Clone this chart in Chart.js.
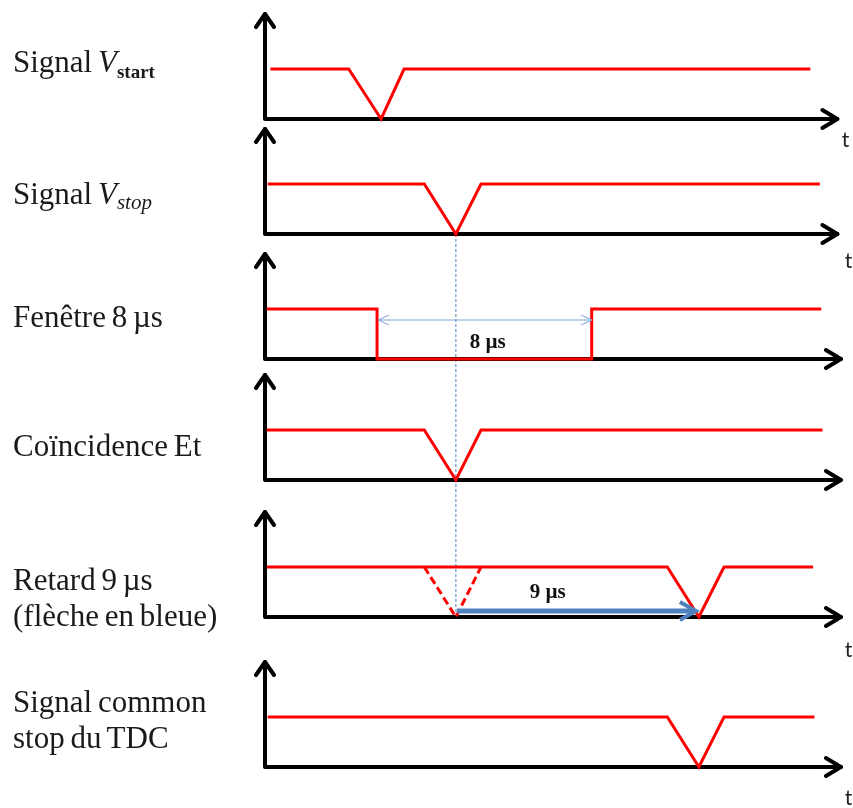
<!DOCTYPE html>
<html>
<head>
<meta charset="utf-8">
<script src="https://cdn.jsdelivr.net/npm/chart.js@4"></script>
<style>
  body { margin: 0; background: #fff; }
  #wrap { position: relative; width: 853px; height: 808px; }
  #timing { position: absolute; left: 0; top: 0; }
  .label {
    position: absolute;
    left: 13px;
    font-family: "Liberation Serif", "Times New Roman", serif;
    font-size: 31px;
    line-height: 37px;
    color: #1a1a1a;
    white-space: nowrap;
    word-spacing: -2px;
  }
  .label.two { line-height: 36px; }
  .sub { position: relative; top: 6px; font-size: 19px; font-weight: bold; line-height: 0; }
  .subi { position: relative; top: 5px; font-size: 21px; font-style: italic; line-height: 0; }
</style>
</head>
<body>
<div id="wrap">
  <canvas id="timing" width="853" height="808"></canvas>
  <div class="label" style="top:43px">Signal <i>V</i><span class="sub">start</span></div>
  <div class="label" style="top:175px">Signal <i>V</i><span class="subi">stop</span></div>
  <div class="label" style="top:298px">Fenêtre 8 µs</div>
  <div class="label" style="top:427px">Coïncidence Et</div>
  <div class="label two" style="top:562px">Retard 9 µs<br>(flèche en bleue)</div>
  <div class="label two" style="top:684px">Signal common<br>stop du TDC</div>
</div>
<script>
// times in µs, levels 0 = low, 1 = high
const startTimes = [0.2, 3.1, 4.3, 5.15, 20.2];
const startLevels = [1, 1, 0, 1, 1];

const stopTimes = [0.1, 5.9, 7.07, 8.0, 20.55];
const stopLevels = [1, 1, 0, 1, 1];

const windowTimes = [0.07, 4.15, 4.15, 12.1, 12.1, 20.6];
const windowLevels = [1, 1, 0, 0, 1, 1];

const coincTimes = [0.07, 5.9, 7.07, 8.0, 20.65];
const coincLevels = [1, 1, 0, 1, 1];

const delayTimes = [0.07, 14.9, 16.07, 17.0, 20.3];
const delayLevels = [1, 1, 0, 1, 1];

const ghostTimes = [5.9, 7.07, 8.0];
const ghostLevels = [1, 0, 1];

const commonTimes = [0.1, 14.9, 16.07, 17.0, 20.35];
const commonLevels = [1, 1, 0, 1, 1];

const windowUs = 8;
const delayUs = 9;
const axisEnds = [21.2, 21.2, 21.33, 21.33, 21.33, 21.33];

// layout of the six lanes (in level units on the y scale)
const laneBase = [13.78, 11.48, 8.98, 6.56, 3.82, 0.82];
const axisHeight = 2.1;
const tLabelDx = [8, 11, 16, 16, 7.5, 7.5];
const tLabelDy = [28, 34, 30, 36, 40, 38];

const RED = "#ff0000";
const BLUE = "#4f81bd";

function toPoints(times, levels, lane) {
  return times.map((t, i) => ({ x: t, y: laneBase[lane] + levels[i] }));
}

function signalDataset(times, levels, lane, dashed) {
  return {
    data: toPoints(times, levels, lane),
    borderColor: RED,
    borderWidth: 3,
    borderDash: dashed ? [8, 4] : [],
    pointRadius: 0,
    tension: 0,
    fill: false,
  };
}

function drawAxes(ctx, x, y, lane) {
  let x0 = x.getPixelForValue(0);
  let yb = y.getPixelForValue(laneBase[lane]);
  let yt = y.getPixelForValue(laneBase[lane] + axisHeight);
  let xe = x.getPixelForValue(axisEnds[lane]);

  ctx.strokeStyle = "#000";
  ctx.lineWidth = 4;
  ctx.lineJoin = "round";
  ctx.lineCap = "round";
  ctx.setLineDash([]);
  ctx.beginPath();
  ctx.moveTo(x0, yt);
  ctx.lineTo(x0, yb);
  ctx.lineTo(xe, yb);
  ctx.stroke();

  ctx.beginPath();
  ctx.moveTo(x0 - 9, yt + 13);
  ctx.lineTo(x0, yt);
  ctx.lineTo(x0 + 9, yt + 13);
  ctx.moveTo(xe - 15, yb - 9);
  ctx.lineTo(xe, yb);
  ctx.lineTo(xe - 15, yb + 9);
  ctx.stroke();

  ctx.fillStyle = "#222";
  ctx.font = '21px Lato, "Liberation Sans", sans-serif';
  ctx.textAlign = "center";
  ctx.textBaseline = "alphabetic";
  ctx.fillText("t", xe + tLabelDx[lane], yb + tLabelDy[lane]);
}

function drawOpenHead(ctx, tipX, tipY, dir, len, half) {
  ctx.beginPath();
  ctx.moveTo(tipX - dir * len, tipY - half);
  ctx.lineTo(tipX, tipY);
  ctx.lineTo(tipX - dir * len, tipY + half);
  ctx.stroke();
}

const timingPlugin = {
  id: "timing",
  beforeDatasetsDraw(chart) {
    const { ctx, scales: { x, y } } = chart;
    ctx.save();

    // dashed marker at the stop dip, from lane 2 down to lane 5
    let mx = x.getPixelForValue(stopTimes[2]);
    ctx.strokeStyle = BLUE;
    ctx.lineWidth = 1;
    ctx.setLineDash([3, 2]);
    ctx.beginPath();
    ctx.moveTo(mx, y.getPixelForValue(laneBase[1]));
    ctx.lineTo(mx, y.getPixelForValue(laneBase[4]));
    ctx.stroke();

    for (let lane = 0; lane < laneBase.length; lane++) {
      drawAxes(ctx, x, y, lane);
    }
    ctx.restore();
  },
  afterDatasetsDraw(chart) {
    const { ctx, scales: { x, y } } = chart;
    ctx.save();
    ctx.setLineDash([]);

    // 8 µs window arrow
    let wx1 = x.getPixelForValue(windowTimes[1]);
    let wx2 = x.getPixelForValue(windowTimes[1] + windowUs);
    let wy = y.getPixelForValue(laneBase[2] + 0.78);
    ctx.strokeStyle = "#7fa3d6";
    ctx.lineWidth = 1;
    ctx.beginPath();
    ctx.moveTo(wx1 + 1, wy);
    ctx.lineTo(wx2 - 1, wy);
    ctx.stroke();
    drawOpenHead(ctx, wx1 + 1, wy, -1, 11, 5);
    drawOpenHead(ctx, wx2 - 1, wy, 1, 11, 5);

    ctx.fillStyle = "#111";
    ctx.font = 'bold 21px "Liberation Serif", serif';
    ctx.textAlign = "center";
    ctx.textBaseline = "alphabetic";
    ctx.fillText("8 µs", x.getPixelForValue(windowTimes[1] + windowUs / 2 + 0.1), y.getPixelForValue(laneBase[2] + 0.22));

    // 9 µs delay arrow
    let dx1 = x.getPixelForValue(stopTimes[2]);
    let dx2 = x.getPixelForValue(stopTimes[2] + delayUs);
    let dy = y.getPixelForValue(laneBase[4] + 0.12);
    ctx.strokeStyle = BLUE;
    ctx.lineWidth = 5;
    ctx.lineCap = "butt";
    ctx.lineJoin = "miter";
    ctx.beginPath();
    ctx.moveTo(dx1 + 1, dy);
    ctx.lineTo(dx2 - 6, dy);
    ctx.stroke();
    ctx.lineWidth = 4;
    drawOpenHead(ctx, dx2 - 3, dy, 1, 16, 9);

    ctx.fillText("9 µs", x.getPixelForValue(stopTimes[2] + 3.4), y.getPixelForValue(laneBase[4] + 0.38));

    ctx.restore();
  },
};

function renderTiming() {
  let canvas = document.getElementById("timing");
  new Chart(canvas, {
    type: "line",
    data: {
      datasets: [
        signalDataset(startTimes, startLevels, 0),
        signalDataset(stopTimes, stopLevels, 1),
        signalDataset(windowTimes, windowLevels, 2),
        signalDataset(coincTimes, coincLevels, 3),
        signalDataset(delayTimes, delayLevels, 4),
        signalDataset(ghostTimes, ghostLevels, 4, true),
        signalDataset(commonTimes, commonLevels, 5),
      ],
    },
    options: {
      responsive: false,
      animation: false,
      layout: { padding: { left: 265, right: 7.5, top: 0, bottom: 0 } },
      plugins: { legend: { display: false }, tooltip: { enabled: false } },
      scales: {
        x: { type: "linear", min: 0, max: 21.5, display: false },
        y: { type: "linear", min: 0, max: 16.16, display: false },
      },
    },
    plugins: [timingPlugin],
  });
}

renderTiming();
</script>
</body>
</html>
